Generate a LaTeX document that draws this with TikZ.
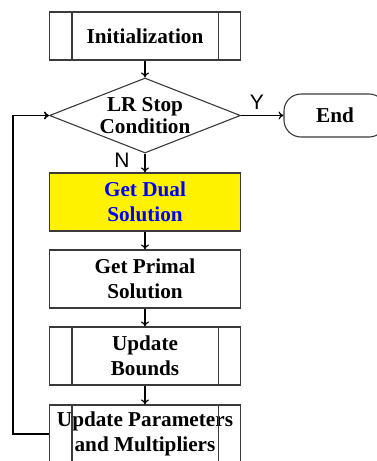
\documentclass[tikz,border=0pt]{standalone}
\usepackage{fontspec}
\setmainfont{Liberation Serif}
\newfontfamily\labelfont{Liberation Sans}
\usetikzlibrary{shapes.geometric,arrows.meta}
\definecolor{edgegray}{HTML}{3A3A3A}
\tikzset{
  box/.style={draw=edgegray, line width=1.1pt, minimum width=191pt, inner sep=0pt,
    align=center, font=\fontsize{21.2}{25}\selectfont\bfseries},
  decision/.style={diamond, draw=edgegray, line width=1.1pt, inner sep=0pt, aspect=2.55,
    minimum width=191pt, minimum height=75pt, align=center,
    font=\fontsize{21.2}{22}\selectfont\bfseries},
  terminal/.style={draw=edgegray, line width=1.1pt, rounded corners=17pt, minimum width=102pt,
    minimum height=43pt, inner sep=0pt, font=\fontsize{21.2}{25}\selectfont\bfseries},
  flow/.style={line width=1.2pt, -{To[length=5pt,width=8pt]}},
  back/.style={line width=1.7pt, -{To[length=5pt,width=8pt]}},
  branch/.style={font=\labelfont\fontsize{21}{21}\selectfont, inner sep=0pt},
  sideline/.style={draw=edgegray, line width=1.1pt}
}
\begin{document}
\begin{tikzpicture}[x=1pt, y=-1pt]
  \useasboundingbox (0,0) rectangle (377,461);
  \fill[white] (0,0) rectangle (377,461);

  \node[box, minimum height=48pt] (init) at (145,36) {Initialization};
  \node[decision] (cond) at (145,115.5) {LR Stop\\Condition};
  \node[terminal] (end) at (335,115.5) {End};
  \node[box, minimum height=58pt, fill=yellow, text=blue] (dual) at (145,202) {Get Dual\\Solution};
  \node[box, minimum height=58pt] (primal) at (145,279) {Get Primal\\Solution};
  \node[box, minimum height=58pt] (bounds) at (145,356) {Update\\Bounds};
  \node[box, minimum height=58pt] (params) at (145,434) {Update Parameters\\and Multipliers};

  % inner bars of the predefined-process boxes
  \foreach \n in {init,bounds,params}{
    \draw[sideline] ([xshift=23pt]\n.north west) -- ([xshift=23pt]\n.south west);
    \draw[sideline] ([xshift=-23pt]\n.north east) -- ([xshift=-23pt]\n.south east);
  }

  % branch labels
  \node[branch] (ylab) at (257,102) {Y};
  \node[branch] (nlab) at (122,160) {N};

  \draw[flow] (init) -- (cond);
  \draw[flow] (cond) -- (dual);
  \draw[flow] (cond) -- (end);
  \draw[flow] (dual) -- (primal);
  \draw[flow] (primal) -- (bounds);
  \draw[flow] (bounds) -- (params);
  \draw[back] (params.west) -- ++(-36,0) |- (cond.west);
\end{tikzpicture}
\end{document}
